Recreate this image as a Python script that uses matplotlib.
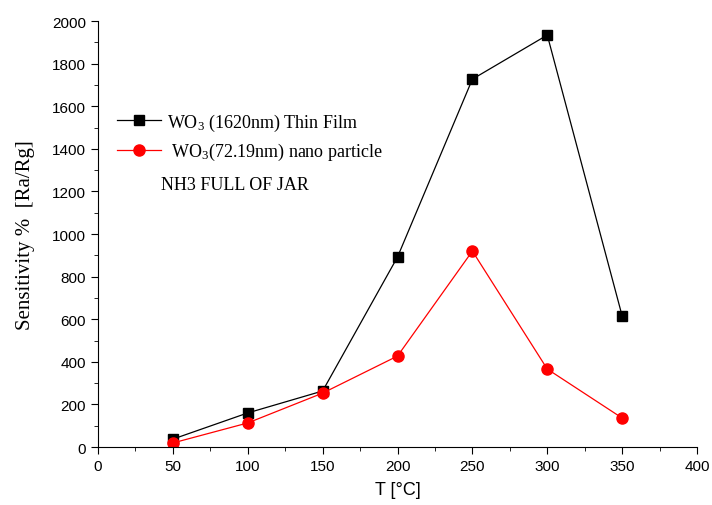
import matplotlib.pyplot as plt
from matplotlib.ticker import MultipleLocator

temps = [50, 100, 150, 200, 250, 300, 350]
thin_film = [37, 160, 263, 892, 1727, 1934, 615]
nano_particle = [19, 113, 253, 427, 920, 366, 136]

plt.rcParams['mathtext.fontset'] = 'custom'
plt.rcParams['mathtext.rm'] = 'Liberation Serif'
plt.rcParams['mathtext.it'] = 'Liberation Serif:italic'

fig = plt.figure(figsize=(7.12, 5.06), dpi=100)
ax = fig.add_axes([0.1376, 0.1146, 0.8414, 0.8419])

ax.plot(temps, thin_film, color='black', lw=0.9, marker='s', ms=6.5,
        label='WO$_3$ (1620nm) Thin Film')
ax.plot(temps, nano_particle, color='red', lw=0.9, marker='o', ms=8,
        label=' WO$_3$(72.19nm) nano particle')

ax.set_xlim(0, 400)
ax.set_ylim(0, 2000)
ax.xaxis.set_major_locator(MultipleLocator(50))
ax.xaxis.set_minor_locator(MultipleLocator(25))
ax.yaxis.set_major_locator(MultipleLocator(200))
ax.yaxis.set_minor_locator(MultipleLocator(100))
for s in ['top', 'right']:
    ax.spines[s].set_visible(False)
ax.tick_params(which='major', direction='out', length=5, labelsize=11)
ax.tick_params(which='minor', direction='out', length=3)
for lab in ax.get_xticklabels() + ax.get_yticklabels():
    lab.set_fontfamily('Liberation Sans')

ax.set_xlabel('T [°C]', fontsize=13, family='Liberation Sans', labelpad=6)
ax.set_ylabel('Sensitivity %  [Ra/Rg]', fontsize=15, family='Liberation Serif',
              labelpad=12)

leg = ax.legend(loc='upper left', bbox_to_anchor=(0.005, 0.826), frameon=False,
                prop={'family': 'Liberation Serif', 'size': 13},
                handlelength=2.45, handletextpad=0.3, labelspacing=0.47)
ax.text(0.105, 0.605, 'NH3 FULL OF JAR', transform=ax.transAxes,
        fontsize=13, family='Liberation Serif')

fig.savefig('out.png', dpi=100)
